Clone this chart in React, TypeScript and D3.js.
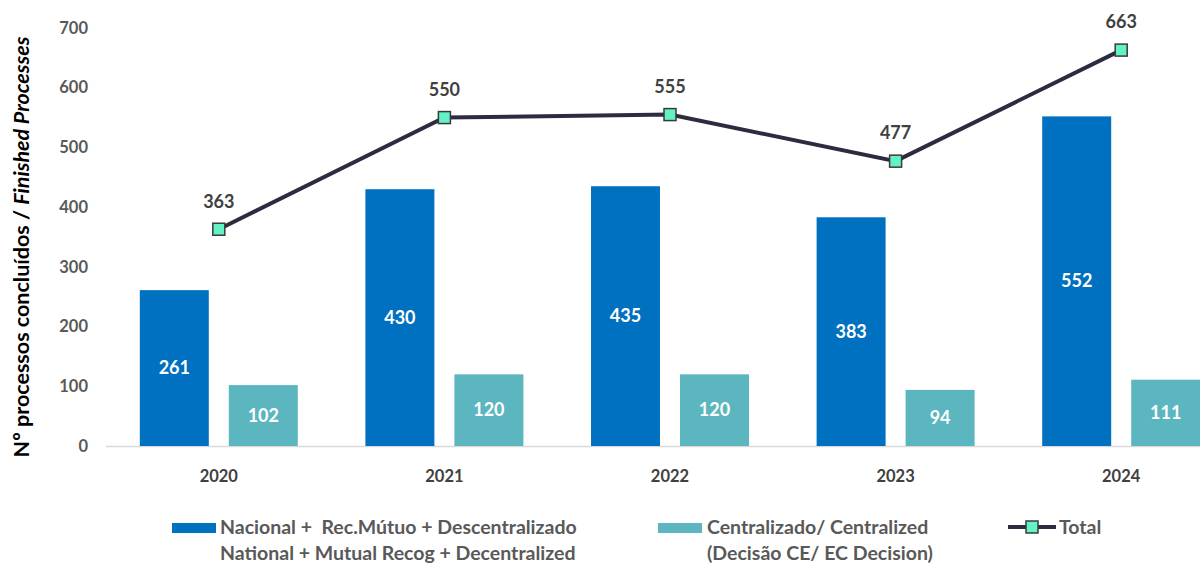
import React from 'react';
import * as d3 from 'd3';

const years = ['2020', '2021', '2022', '2023', '2024'];
const nacional = [261, 430, 435, 383, 552];
const centralizado = [102, 120, 120, 94, 111];
const total = [363, 550, 555, 477, 663];
const yTicks = [0, 100, 200, 300, 400, 500, 600, 700];

const W = 1200;
const H = 564;
const FONT = 'Lato, "Open Sans", sans-serif';

const App = () => {
  // plot area runs past the right edge, as in the original
  const left = 106;
  const right = 1234;
  const top = 28;
  const bottom = 446;

  const x0 = d3.scaleBand<string>().domain(years).range([left, right]).padding(0);
  const x1 = d3
    .scaleBand<string>()
    .domain(['nac', 'cen'])
    .range([0, x0.bandwidth()])
    .paddingInner(0.225)
    .paddingOuter(0.38);
  const y = d3.scaleLinear().domain([0, 700]).range([bottom, top]);

  const cx = (d: string) => (x0(d) as number) + x0.bandwidth() / 2;
  const line = d3
    .line<number>()
    .x((_, i) => cx(years[i]))
    .y(v => y(v));

  const bw = x1.bandwidth();

  return (
    <svg width={W} height={H} style={{ position: 'absolute', left: 0, top: 0, background: '#fff' }} fontFamily={FONT}>
      {/* y axis labels */}
      {yTicks.map(t => (
        <text key={t} x={88} y={y(t)} dy="0.35em" textAnchor="end" fontSize={16.5} fontWeight={700} fill="#595959">
          {t}
        </text>
      ))}
      <text
        transform={`translate(29,${(top + bottom) / 2 + 10}) rotate(-90)`}
        textAnchor="middle"
        fontSize={21.5}
        fontWeight={700}
        fill="#000"
      >
        Nº processos concluídos / <tspan fontStyle="italic">Finished Processes</tspan>
      </text>

      {/* x axis */}
      <line x1={left} x2={W} y1={bottom + 0.5} y2={bottom + 0.5} stroke="#d9d9d9" strokeWidth={1.5} />
      {years.map(yr => (
        <text key={yr} x={cx(yr)} y={476} dy="0.35em" textAnchor="middle" fontSize={16.5} fontWeight={700} fill="#404040">
          {yr}
        </text>
      ))}

      {/* bars */}
      {years.map((yr, i) => {
        const bx = (x0(yr) as number) + (x1('nac') as number);
        const tx = (x0(yr) as number) + (x1('cen') as number);
        return (
          <g key={yr}>
            <rect x={bx} y={y(nacional[i])} width={bw} height={y(0) - y(nacional[i])} fill="#0070C0" />
            <rect x={tx} y={y(centralizado[i])} width={bw} height={y(0) - y(centralizado[i])} fill="#5BB6BF" />
            <text
              x={bx + bw / 2}
              y={(y(nacional[i]) + y(0)) / 2}
              dy="0.35em"
              textAnchor="middle"
              fontSize={18}
              fontWeight={700}
              fill="#fff"
            >
              {nacional[i]}
            </text>
            <text
              x={tx + bw / 2}
              y={(y(centralizado[i]) + y(0)) / 2}
              dy="0.35em"
              textAnchor="middle"
              fontSize={18}
              fontWeight={700}
              fill="#fff"
            >
              {centralizado[i]}
            </text>
          </g>
        );
      })}

      {/* total line */}
      <path d={line(total) as string} fill="none" stroke="#2E2B40" strokeWidth={4} />
      {total.map((v, i) => (
        <g key={i}>
          <rect x={cx(years[i]) - 6} y={y(v) - 6} width={12} height={12} fill="#62F2C6" stroke="#3a3a3a" strokeWidth={1.5} />
          <text x={cx(years[i])} y={y(v) - 28} dy="0.35em" textAnchor="middle" fontSize={18} fontWeight={700} fill="#404040">
            {v}
          </text>
        </g>
      ))}

      {/* legend */}
      <g fontSize={19.5} fontWeight={700} fill="#595959">
        <rect x={172} y={523} width={44} height={10} fill="#0070C0" />
        <text x={220} y={527} dy="0.35em" xmlSpace="preserve" style={{ whiteSpace: 'pre' }}>
          {'Nacional +  Rec.Mútuo + Descentralizado'}
        </text>
        <text x={220} y={553} dy="0.35em">
          National + Mutual Recog + Decentralized
        </text>
        <rect x={658} y={523} width={44} height={10} fill="#5BB6BF" />
        <text x={707} y={527} dy="0.35em">
          Centralizado/ Centralized
        </text>
        <text x={707} y={553} dy="0.35em">
          (Decisão CE/ EC Decision)
        </text>
        <line x1={1008} x2={1056} y1={527} y2={527} stroke="#2E2B40" strokeWidth={4} />
        <rect x={1026} y={521} width={12} height={12} fill="#62F2C6" stroke="#3a3a3a" strokeWidth={1.5} />
        <text x={1059} y={527} dy="0.35em">
          Total
        </text>
      </g>
    </svg>
  );
};

export default App;
